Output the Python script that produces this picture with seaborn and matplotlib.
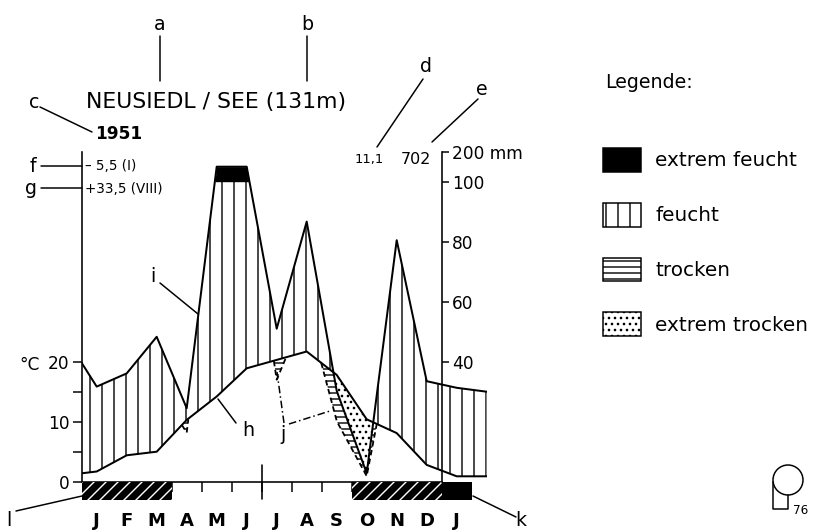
import numpy as np
import matplotlib
matplotlib.use("Agg")
import matplotlib.pyplot as plt
import matplotlib.transforms as mtransforms
import seaborn as sns
from matplotlib.patches import Patch, Circle
from matplotlib.lines import Line2D

# ---------------- data (Dec 1950 .. Feb 1952, index 0 = Jan 1951) ----------------
month_index = [-1, 0, 1, 2, 3, 4, 5, 6, 7, 8, 9, 10, 11, 12, 13]
temperature = [1.1, 1.7, 4.4, 5.0, 10.3, 14.2, 18.9, 20.3, 21.7, 17.8, 10.4, 8.1, 2.8, 0.9, 0.9]
precipitation = [47.5, 31.7, 36.1, 48.3, 24.5, 150.0, 150.0, 51.0, 86.7, 30.3, 2.8, 80.5, 33.5, 31.3, 30.0]
month_labels = ["J", "F", "M", "A", "M", "J", "J", "A", "S", "O", "N", "D", "J"]
frost_class = [1, 1, 1, 0, 0, 0, 0, 0, 0, 1, 1, 1, 2]   # Jan 1951 .. Jan 1952
left_ticks = [0, 10, 20]
left_minor_ticks = [5, 15]
right_ticks_mm = [40, 60, 80, 100, 200]
right_tick_labels = ["40", "60", "80", "100", "200 mm"]
station = "NEUSIEDL / SEE (131m)"
year = "1951"
mean_temp = "11,1"
annual_precip = "702"
abs_min = "– 5,5 (I)"
abs_max = "+33,5 (VIII)"
legend_title = "Legende:"
legend_labels = ["extrem feucht", "feucht", "trocken", "extrem trocken"]

W, H = 828, 532
sns.set_style("white")
plt.rcParams["font.family"] = ["DejaVu Sans"]
plt.rcParams["hatch.linewidth"] = 1.4
for k in ["text.color", "axes.labelcolor", "xtick.color", "ytick.color", "axes.edgecolor"]:
    plt.rcParams[k] = "black"


def mm_to_c(p):
    p = np.asarray(p, dtype=float)
    return np.where(p <= 100, p / 2.0, 50 + (p - 100) / 20.0)


x = np.asarray(month_index, dtype=float)
T = np.asarray(temperature, dtype=float)
P = np.asarray(precipitation, dtype=float)
Pc = mm_to_c(P)
P3 = P / 3.0

fig = plt.figure(figsize=(W / 72, H / 72), dpi=72)
ax = fig.add_axes([81.7 / W, 32 / H, 405 / W, 348.3 / H])
ax.set_xlim(-0.5, 13.0)
ax.set_ylim(-3.05, 55)
ax.patch.set_alpha(0)

# dense rendering grid
xd = np.linspace(x[0], x[-1], 4001)
Td = np.interp(xd, x, T)
Pd = np.interp(xd, x, Pc)
P3d = np.interp(xd, x, P3)

# humid (vertical hatching up to 100 mm)
ax.fill_between(xd, Td, np.minimum(Pd, 50), where=Pd >= Td, interpolate=True,
                facecolor="none", edgecolor="black", hatch="|", linewidth=0, zorder=1)
# extremely humid (black above 100 mm)
ax.fill_between(xd, 50, Pd, where=Pd >= 50, interpolate=True,
                facecolor="black", edgecolor="black", linewidth=0, zorder=1)
# dry (1:3 curve below temperature)
ax.fill_between(xd, P3d, Td, where=P3d < Td, interpolate=True,
                facecolor="white", edgecolor="black", hatch="--", linewidth=0, zorder=1.2)
ax.plot(xd, np.where(P3d < Td, P3d, np.nan), color="black", lw=1.8, ls=(0, (3, 2)), zorder=1.3)
# extremely dry
ax.fill_between(xd, Pd, Td, where=Pd < Td, interpolate=True,
                facecolor="white", edgecolor="black", hatch="..", linewidth=0, zorder=1.4)

# curves
sns.lineplot(x=x, y=T, color="black", lw=2.0, ax=ax, zorder=2)
sns.lineplot(x=x, y=Pc, color="black", lw=2.0, ax=ax, zorder=2)

# frost bar
fx = np.arange(len(frost_class))
fc = np.asarray(frost_class)
ax.bar(fx[fc == 1], 3, bottom=-3, width=1.0, facecolor="black", edgecolor="white",
       hatch="//", linewidth=0, zorder=3)
ax.bar(fx[fc == 2], 3, bottom=-3, width=1.0, facecolor="black", edgecolor="black",
       linewidth=0, zorder=3)

# axes / spines
ax.spines["top"].set_visible(False)
ax.spines["right"].set_visible(False)
ax.spines["left"].set_bounds(0, 55)
ax.spines["left"].set_linewidth(1.6)
ax.spines["bottom"].set_position(("data", 0))
ax.spines["bottom"].set_bounds(-0.5, 11.5)
ax.spines["bottom"].set_linewidth(1.6)

ax.set_yticks(left_ticks, labels=[str(v) for v in left_ticks])
ax.set_yticks(left_minor_ticks, minor=True)
ax.tick_params(axis="y", which="both", left=True, direction="out", length=9, width=1.5,
               labelsize=17, pad=3, colors="black")

ax.set_xticks(np.arange(0.5, 11.0, 1.0), labels=[""] * 11)
ax.set_xticks(np.arange(len(month_labels)), labels=month_labels, minor=True)
ax.tick_params(axis="x", which="major", bottom=True, direction="out", length=10, width=1.5)
ax.tick_params(axis="x", which="minor", bottom=True, length=0, pad=30, labelsize=18)
for lab in ax.get_xticklabels(minor=True):
    lab.set_fontweight("bold")
# longer mid-year tick (end of June), crossing the zero line
ylo, yhi = ax.get_ylim()
ax.axvline(5.5, ymin=(-2.8 - ylo) / (yhi - ylo), ymax=(2.8 - ylo) / (yhi - ylo),
           color="black", lw=1.6, zorder=2.5)

ax2 = ax.twinx()
ax2.set_ylim(ax.get_ylim())
for s in ["top", "left", "bottom"]:
    ax2.spines[s].set_visible(False)
ax2.spines["right"].set_position(("data", 11.5))
ax2.spines["right"].set_bounds(0, 55)
ax2.spines["right"].set_linewidth(1.6)
ax2.set_yticks(mm_to_c(right_ticks_mm), labels=right_tick_labels)
ax2.tick_params(axis="y", right=True, direction="out", length=7, width=1.5, labelsize=17, pad=3)
ax.set_xlabel("")
ax.set_ylabel("")


# ---------------- annotation helpers (pixel coordinates) ----------------
def ftext(xp, yp, s, **kw):
    kw.setdefault("ha", "center")
    kw.setdefault("va", "center")
    fig.text(xp / W, 1 - yp / H, s, **kw)


def fline(x0, y0, x1, y1, **kw):
    kw.setdefault("color", "black")
    kw.setdefault("lw", 1.5)
    fig.add_artist(Line2D([x0 / W, x1 / W], [1 - y0 / H, 1 - y1 / H],
                          transform=fig.transFigure, **kw))


ftext(216, 102, station, fontsize=22)
ftext(119, 134, year, fontsize=17, fontweight="bold")
ftext(85, 166, abs_min, fontsize=13.5, ha="left")
ftext(85, 189, abs_max, fontsize=13.5, ha="left")
ftext(369, 160, mean_temp, fontsize=13)
ftext(416, 160, annual_precip, fontsize=16)
ftext(30, 365, "°C", fontsize=17)

# letter keys
for s, xp, yp in [("a", 160, 24), ("b", 307, 24), ("c", 34, 102), ("d", 426, 66),
                  ("e", 482, 89), ("f", 33, 166), ("g", 31, 189), ("i", 153, 276),
                  ("h", 248, 430), ("j", 283, 435), ("k", 521, 521), ("l", 9, 521)]:
    ftext(xp, yp, s, fontsize=19)

fline(160, 36, 160, 81)
fline(307, 36, 307, 81)
fline(40, 107, 92, 132)
fline(423, 79, 377, 147)
fline(478, 99, 432, 142)
fline(41, 166, 82, 166)
fline(41, 188, 82, 188)
fline(160, 283, 198, 314)
fline(236, 423, 218, 399)
fline(284, 423, 277, 372, ls=(0, (5, 2, 1, 2)))
fline(289, 424, 330, 411, ls=(0, (5, 2, 1, 2)))
fline(473, 496, 516, 517)
fline(16, 511, 82, 496)

# legend
ftext(605, 83, legend_title, fontsize=19, ha="left")
handles = [Patch(facecolor="black", edgecolor="black", lw=1.5),
           Patch(facecolor="white", edgecolor="black", hatch="|", lw=1.5),
           Patch(facecolor="white", edgecolor="black", hatch="--", lw=1.5),
           Patch(facecolor="white", edgecolor="black", hatch="..", lw=1.5)]
fs = 20
fig.legend(handles, legend_labels, loc="upper left",
           bbox_to_anchor=(603 / W, 1 - 148 / H), frameon=False, fontsize=fs,
           handlelength=38 / fs, handleheight=29 / fs, handletextpad=0.7,
           labelspacing=(60 - 29) / fs, borderpad=0, borderaxespad=0)

# corner symbol (pixel coordinates, origin bottom-left)
pix = mtransforms.IdentityTransform()
fig.add_artist(Circle((788, H - 480), 15, transform=pix,
                      facecolor="none", edgecolor="black", lw=1.5))
fig.add_artist(Line2D([773, 773, 788, 788], [H - 482, H - 509, H - 509, H - 495],
                      transform=pix, color="black", lw=1.5))
ftext(801, 511, "76", fontsize=12)

fig.savefig("out.png", dpi=72)
